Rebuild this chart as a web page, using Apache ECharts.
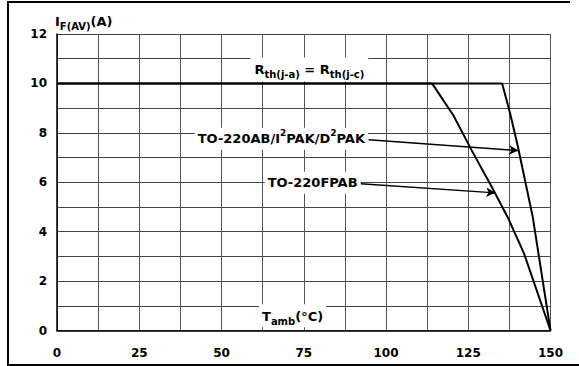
<!DOCTYPE html>
<html><head><meta charset="utf-8">
<script src="https://cdn.jsdelivr.net/npm/echarts@6/dist/echarts.min.js"></script>
<style>html,body{margin:0;padding:0;background:#fff}#c{width:579px;height:366px}</style>
</head><body><div id="c"></div>
<script>
// Data
const abCurve = [[0,10],[135.3,10],[137.6,8.85],[140,7.5],[144.6,4.6],[150,0]];
const fpabCurve = [[0,10],[114,10],[120.5,8.7],[126,7.3],[132,5.85],[137.3,4.5],[142,3.1],[150,0]];
const arrowAB = [[94.7,7.72],[140.2,7.28]];
const arrowFPAB = [[92.3,5.94],[133.2,5.57]];
const labelRth = [76.7,10.56];
const labelAB = [68.2,7.76];
const labelFPAB = [77.7,5.98];
const labelTamb = [71.6,0.6];
const xTicks = [0,25,50,75,100,125,150];
const yTicks = [0,2,4,6,8,10,12];

const FONT = '"DejaVu Sans", "Liberation Sans", Arial, sans-serif';
const rich = {
  m:{fontFamily:FONT,fontWeight:'bold',fontSize:13,color:'#000',lineHeight:20,verticalAlign:'middle'},
  s:{fontFamily:FONT,fontWeight:'bold',fontSize:10,color:'#000',lineHeight:10,verticalAlign:'bottom'},
  p:{fontFamily:FONT,fontWeight:'bold',fontSize:9,color:'#000',lineHeight:10,verticalAlign:'top'}
};
function mp(coord, text, pad){
  return {coord:coord, symbol:'rect', symbolSize:1, itemStyle:{color:'rgba(0,0,0,0)'},
    label:{show:true, position:'inside', formatter:text, rich:rich, backgroundColor:'#fff', padding:pad||[1,3,1,3]}};
}
const chart = echarts.init(document.getElementById('c'), null, {renderer:'svg'});
chart.setOption({
  animation:false,
  backgroundColor:'#fff',
  grid:{left:57,right:28.5,top:34,bottom:35.5,show:false},
  xAxis:{type:'value',min:0,max:150,interval:12.5,
    axisLine:{show:true,onZero:false,lineStyle:{color:'#000',width:1.5}},
    axisTick:{show:false},
    splitLine:{show:true,lineStyle:{color:'#555',width:1}},
    axisLabel:{margin:16,fontFamily:FONT,fontWeight:'bold',fontSize:12,color:'#000',
      formatter:v=>xTicks.indexOf(v)>=0?String(v):''}},
  yAxis:{type:'value',min:0,max:12,interval:1,
    name:'{m|I}{s|F(AV)}{m|(A)}',nameLocation:'end',nameGap:3,
    nameTextStyle:{align:'left',verticalAlign:'bottom',rich:rich,padding:[0,0,0,-2]},
    axisLine:{show:true,lineStyle:{color:'#000',width:1.5}},
    axisTick:{show:false},
    splitLine:{show:true,lineStyle:{color:'#444',width:1}},
    axisLabel:{margin:10,fontFamily:FONT,fontWeight:'bold',fontSize:12,color:'#000',
      formatter:v=>yTicks.indexOf(v)>=0?String(v):''}},
  graphic:[{type:'polyline',shape:{points:[[570,2],[8,2],[8,365],[579,365]]},
    style:{stroke:'#000',lineWidth:2,fill:null},silent:true}],
  series:[
    {type:'line',name:'TO-220AB',data:abCurve,symbol:'none',
      lineStyle:{color:'#000',width:2},z:3,
      markLine:{silent:true,symbol:['none','arrow'],symbolSize:[7,9],
        lineStyle:{color:'#000',width:1.3,type:'solid'},label:{show:false},
        data:[[{coord:arrowAB[0]},{coord:arrowAB[1]}],[{coord:arrowFPAB[0]},{coord:arrowFPAB[1]}]]},
      markPoint:{silent:true,data:[
        mp(labelRth,'{m|R}{s|th(j-a)}{m| = R}{s|th(j-c)}',[2,4,2,4]),
        mp(labelAB,'{m|TO-220AB/I}{p|2}{m|PAK/D}{p|2}{m|PAK}',[1,3,1,3]),
        mp(labelFPAB,'{m|TO-220FPAB}',[1,3,1,3]),
        mp(labelTamb,'{m|T}{s|amb}{m|(°C)}',[2,3,1,3])
      ]}},
    {type:'line',name:'TO-220FPAB',data:fpabCurve,symbol:'none',
      lineStyle:{color:'#000',width:2},z:3}
  ]
});
</script></body></html>
